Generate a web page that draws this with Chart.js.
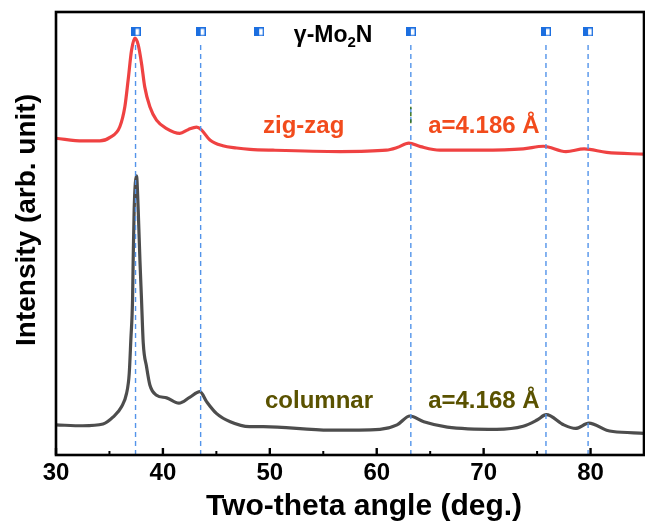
<!DOCTYPE html>
<html>
<head>
<meta charset="utf-8">
<script src="https://cdn.jsdelivr.net/npm/chart.js@4.4.0/dist/chart.umd.min.js"></script>
<style>
  html, body { margin: 0; padding: 0; background: #fff; }
</style>
</head>
<body>
<canvas id="xrd" width="645" height="523"></canvas>
<script>
// ===== 資料 =====
const zigzagX = [30, 32.5, 34.1, 35.05, 35.97, 36.44, 36.75, 37.07, 37.38, 37.69, 38.0, 38.3, 38.78, 39.4, 40.35, 41.58, 42.4, 43.15, 43.6, 44.4, 45.6, 46.9, 48.15, 50.3, 56.6, 60.9, 61.9, 63.0, 64.1, 65.9, 69.7, 73.7, 75.6, 77.7, 79.4, 81.5, 85];
const zigzagY = [71.5, 70.9, 70.9, 71.7, 74.1, 78.6, 84.7, 91.4, 94.1, 92.6, 88.4, 83.1, 78.6, 75.6, 73.7, 72.6, 73.5, 74.0, 73.4, 71.1, 69.8, 69.3, 69.0, 68.8, 68.5, 68.8, 69.4, 70.4, 69.6, 68.8, 68.8, 69.1, 69.7, 68.5, 69.1, 68.3, 67.9];

const columnarX = [30, 32.5, 34.4, 35.35, 36.13, 36.6, 36.85, 37.0, 37.16, 37.22, 37.31, 37.53, 37.69, 37.85, 38.0, 38.16, 38.47, 38.78, 39.4, 40.35, 41.5, 42.5, 43.46, 44.1, 45.0, 46.3, 48.1, 49.4, 55.6, 60.3, 61.9, 63.1, 64.4, 66.6, 71.2, 73.7, 75.0, 75.86, 77.5, 78.6, 79.85, 81.5, 82.1, 85];
const columnarY = [6.8, 6.6, 7.0, 8.6, 10.9, 13.9, 18.4, 26.0, 35.0, 44.0, 55.3, 63.0, 55.3, 44.0, 35.0, 25.3, 19.9, 15.8, 13.5, 12.9, 11.7, 13.0, 14.3, 12.0, 9.4, 7.5, 6.4, 6.4, 5.6, 5.8, 6.8, 8.8, 7.5, 6.3, 5.8, 6.5, 7.9, 9.1, 6.8, 6.0, 7.2, 5.6, 5.3, 4.9];

const refPeaks = [37.44, 43.53, 63.19, 75.83, 79.77];     // dashed reference lines
const refMarks = [37.44, 43.53, 49.0, 63.19, 75.83, 79.77]; // γ-Mo2N markers
const xTicks = [30, 40, 50, 60, 70, 80];
const xMinorTicks = [35, 45, 55, 65, 75, 85];

const labelText = ["zig-zag", "a=4.186 Å", "columnar", "a=4.168 Å"];
const labelX = [49.36, 64.81, 49.55, 64.81];
const labelY = [72.7, 72.7, 10.6, 10.6];
const labelColor = ["#f24b1c", "#f24b1c", "#5a5200", "#5a5200"];

// ===== 設定 =====
const LINE_TOP = 93;
const MARK_Y = 95.5;
const FONT = "'Liberation Sans', Arial, sans-serif";

function toPoints(xs, ys){ return xs.map((x, i) => ({ x, y: ys[i] })); }

// half-filled square marker
function makeMarker(){
  const c = document.createElement("canvas");
  c.width = 10; c.height = 9;
  const g = c.getContext("2d");
  g.fillStyle = "#fff";
  g.fillRect(0, 0, 10, 9);
  g.fillStyle = "#1c6fe0";
  g.fillRect(0, 0, 5, 9);
  g.strokeStyle = "#1c6fe0";
  g.lineWidth = 1.4;
  g.strokeRect(0.7, 0.7, 8.6, 7.6);
  return c;
}

const datasets = [];
datasets.push({
  label: "zig-zag", data: toPoints(zigzagX, zigzagY),
  borderColor: "#ef4242", borderWidth: 3.2, pointRadius: 0,
  cubicInterpolationMode: "monotone", order: 3
});
datasets.push({
  label: "columnar", data: toPoints(columnarX, columnarY),
  borderColor: "#4d4d4d", borderWidth: 3.2, pointRadius: 0,
  cubicInterpolationMode: "monotone", order: 3
});
refPeaks.forEach(p => {
  datasets.push({
    label: "ref", data: [{ x: p, y: 0 }, { x: p, y: LINE_TOP }],
    borderColor: "#5394ea", borderWidth: 1.4, borderDash: [5, 4],
    pointRadius: 0, order: 2
  });
});
datasets.push({
  label: "seg", data: [{ x: refPeaks[2], y: 74.9 }, { x: refPeaks[2], y: 78.6 }],
  borderColor: "#2f6b10", borderWidth: 1.4, borderDash: [4, 3],
  pointRadius: 0, order: 1
});
datasets.push({
  label: "marks", type: "scatter", data: refMarks.map(x => ({ x, y: MARK_Y })),
  pointStyle: makeMarker(), pointRadius: 5, order: 0
});

// ===== 外框、刻度、文字 =====
const decorPlugin = {
  id: "decor",
  afterDraw(chart){
    const { ctx, chartArea: a, scales: { x, y } } = chart;
    ctx.save();
    // inward ticks
    ctx.strokeStyle = "#000";
    ctx.lineWidth = 2.4;
    xTicks.forEach(v => {
      const px = x.getPixelForValue(v);
      ctx.beginPath(); ctx.moveTo(px, a.bottom); ctx.lineTo(px, a.bottom - 7); ctx.stroke();
    });
    ctx.lineWidth = 2;
    xMinorTicks.forEach(v => {
      const px = x.getPixelForValue(v);
      ctx.beginPath(); ctx.moveTo(px, a.bottom); ctx.lineTo(px, a.bottom - 4); ctx.stroke();
    });
    // frame
    ctx.lineWidth = 2.6;
    ctx.strokeRect(a.left, a.top, a.right - a.left, a.bottom - a.top);

    // axis titles
    ctx.fillStyle = "#000";
    ctx.textAlign = "center";
    ctx.textBaseline = "middle";
    ctx.font = `bold 30px ${FONT}`;
    ctx.fillText("Two-theta angle (deg.)", 364, 507);
    ctx.save();
    ctx.translate(27, 220);
    ctx.rotate(-Math.PI / 2);
    ctx.font = `bold 28px ${FONT}`;
    ctx.fillText("Intensity (arb. unit)", 0, 0);
    ctx.restore();

    // sample labels
    ctx.textBaseline = "alphabetic";
    ctx.textAlign = "left";
    ctx.font = `bold 24px ${FONT}`;
    labelText.forEach((t, i) => {
      ctx.fillStyle = labelColor[i];
      ctx.fillText(t, x.getPixelForValue(labelX[i]), y.getPixelForValue(labelY[i]));
    });

    // γ-Mo2N
    let px = x.getPixelForValue(52.25);
    const py = y.getPixelForValue(93.2);
    ctx.fillStyle = "#000";
    ctx.font = `bold 23px ${FONT}`;
    ctx.fillText("γ-Mo", px, py);
    px += ctx.measureText("γ-Mo").width;
    ctx.font = `bold 15px ${FONT}`;
    ctx.fillText("2", px, py + 5);
    px += ctx.measureText("2").width;
    ctx.font = `bold 23px ${FONT}`;
    ctx.fillText("N", px, py);
    ctx.restore();
  }
};

new Chart(document.getElementById("xrd"), {
  type: "line",
  data: { datasets },
  plugins: [decorPlugin],
  options: {
    responsive: false,
    devicePixelRatio: 1,
    animation: false,
    layout: { autoPadding: false, padding: { top: 12, right: 1, left: 0, bottom: 0 } },
    plugins: { legend: { display: false }, tooltip: { enabled: false } },
    scales: {
      x: {
        type: "linear", min: 30, max: 85,
        afterFit: s => { s.height = 68; s.paddingLeft = 0; s.paddingRight = 0; },
        afterBuildTicks: s => { s.ticks = xTicks.map(v => ({ value: v })); },
        grid: { display: false, drawTicks: false },
        border: { display: false },
        ticks: { color: "#000", padding: 4, font: { family: FONT, size: 24, weight: "bold" } },
        title: { display: false }
      },
      y: {
        min: 0, max: 100,
        afterFit: s => { s.width = 56; },
        grid: { display: false, drawTicks: false },
        border: { display: false },
        ticks: { display: false },
        title: { display: false }
      }
    }
  }
});
</script>
</body>
</html>
